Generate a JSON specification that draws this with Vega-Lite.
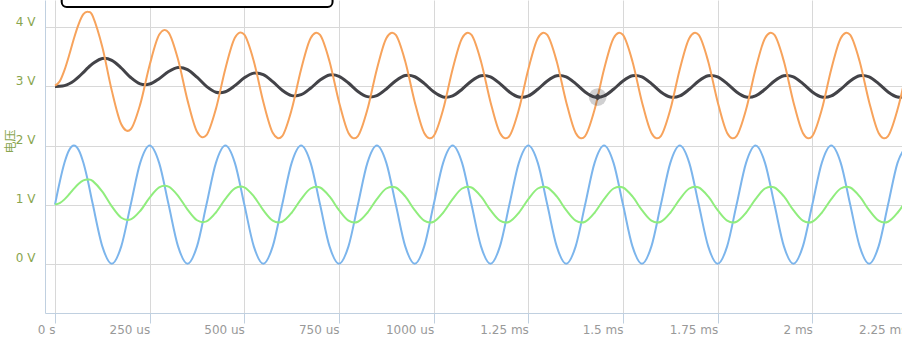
{
  "$schema": "https://vega.github.io/schema/vega-lite/v6.json",
  "width": 862,
  "height": 313,
  "autosize": {"type": "none"},
  "padding": {"left": 45, "top": 0, "right": -5, "bottom": 39},
  "background": "white",
  "config": {"view": {"stroke": null}, "font": "DejaVu Sans"},
  "datasets": {
    "w": [
      {"t": 0, "blue": 1, "dark": 3.000, "green": 1.000, "orange": 3.015},
      {"t": 12.5, "blue": 1.383, "dark": 3.002, "green": 1.024, "orange": 3.086},
      {"t": 25, "blue": 1.707, "dark": 3.014, "green": 1.088, "orange": 3.275},
      {"t": 37.5, "blue": 1.924, "dark": 3.045, "green": 1.175, "orange": 3.531},
      {"t": 50, "blue": 2, "dark": 3.094, "green": 1.270, "orange": 3.812},
      {"t": 62.5, "blue": 1.924, "dark": 3.161, "green": 1.353, "orange": 4.056},
      {"t": 75, "blue": 1.707, "dark": 3.238, "green": 1.409, "orange": 4.222},
      {"t": 87.5, "blue": 1.383, "dark": 3.317, "green": 1.425, "orange": 4.262},
      {"t": 100, "blue": 1, "dark": 3.390, "green": 1.397, "orange": 4.186},
      {"t": 125, "blue": 0.293, "dark": 3.474, "green": 1.221, "orange": 3.667},
      {"t": 150, "blue": 0, "dark": 3.442, "green": 0.971, "orange": 2.929},
      {"t": 175, "blue": 0.293, "dark": 3.312, "green": 0.778, "orange": 2.360},
      {"t": 200, "blue": 1, "dark": 3.151, "green": 0.749, "orange": 2.275},
      {"t": 225, "blue": 1.707, "dark": 3.042, "green": 0.892, "orange": 2.696},
      {"t": 250, "blue": 2, "dark": 3.040, "green": 1.118, "orange": 3.363},
      {"t": 275, "blue": 1.707, "dark": 3.131, "green": 1.291, "orange": 3.873},
      {"t": 300, "blue": 1, "dark": 3.252, "green": 1.304, "orange": 3.912},
      {"t": 325, "blue": 0.293, "dark": 3.321, "green": 1.149, "orange": 3.455},
      {"t": 350, "blue": 0, "dark": 3.284, "green": 0.915, "orange": 2.764},
      {"t": 375, "blue": 0.293, "dark": 3.156, "green": 0.735, "orange": 2.233},
      {"t": 400, "blue": 1, "dark": 3.001, "green": 0.715, "orange": 2.174},
      {"t": 425, "blue": 1.707, "dark": 2.902, "green": 0.866, "orange": 2.620},
      {"t": 450, "blue": 2, "dark": 2.910, "green": 1.097, "orange": 3.301},
      {"t": 475, "blue": 1.707, "dark": 3.013, "green": 1.274, "orange": 3.823},
      {"t": 500, "blue": 1, "dark": 3.146, "green": 1.292, "orange": 3.876},
      {"t": 525, "blue": 0.293, "dark": 3.225, "green": 1.140, "orange": 3.428},
      {"t": 550, "blue": 0, "dark": 3.200, "green": 0.907, "orange": 2.741},
      {"t": 575, "blue": 0.293, "dark": 3.082, "green": 0.729, "orange": 2.216},
      {"t": 600, "blue": 1, "dark": 2.936, "green": 0.710, "orange": 2.160},
      {"t": 625, "blue": 1.707, "dark": 2.845, "green": 0.862, "orange": 2.608},
      {"t": 650, "blue": 2, "dark": 2.860, "green": 1.094, "orange": 3.292},
      {"t": 675, "blue": 1.707, "dark": 2.970, "green": 1.272, "orange": 3.817},
      {"t": 700, "blue": 1, "dark": 3.108, "green": 1.290, "orange": 3.871},
      {"t": 725, "blue": 0.293, "dark": 3.193, "green": 1.138, "orange": 3.422},
      {"t": 750, "blue": 0, "dark": 3.172, "green": 0.906, "orange": 2.738},
      {"t": 775, "blue": 0.293, "dark": 3.058, "green": 0.728, "orange": 2.213},
      {"t": 800, "blue": 1, "dark": 2.915, "green": 0.710, "orange": 2.160},
      {"t": 825, "blue": 1.707, "dark": 2.827, "green": 0.862, "orange": 2.608},
      {"t": 850, "blue": 2, "dark": 2.845, "green": 1.094, "orange": 3.292},
      {"t": 875, "blue": 1.707, "dark": 2.957, "green": 1.272, "orange": 3.817},
      {"t": 900, "blue": 1, "dark": 3.097, "green": 1.290, "orange": 3.871},
      {"t": 925, "blue": 0.293, "dark": 3.184, "green": 1.138, "orange": 3.422},
      {"t": 950, "blue": 0, "dark": 3.164, "green": 0.906, "orange": 2.738},
      {"t": 975, "blue": 0.293, "dark": 3.051, "green": 0.728, "orange": 2.213},
      {"t": 1000, "blue": 1, "dark": 2.909, "green": 0.710, "orange": 2.160},
      {"t": 1025, "blue": 1.707, "dark": 2.822, "green": 0.862, "orange": 2.608},
      {"t": 1050, "blue": 2, "dark": 2.840, "green": 1.094, "orange": 3.292},
      {"t": 1075, "blue": 1.707, "dark": 2.953, "green": 1.272, "orange": 3.817},
      {"t": 1100, "blue": 1, "dark": 3.093, "green": 1.290, "orange": 3.871},
      {"t": 1125, "blue": 0.293, "dark": 3.180, "green": 1.138, "orange": 3.422},
      {"t": 1150, "blue": 0, "dark": 3.161, "green": 0.906, "orange": 2.738},
      {"t": 1175, "blue": 0.293, "dark": 3.048, "green": 0.728, "orange": 2.213},
      {"t": 1200, "blue": 1, "dark": 2.907, "green": 0.710, "orange": 2.160},
      {"t": 1225, "blue": 1.707, "dark": 2.820, "green": 0.862, "orange": 2.608},
      {"t": 1250, "blue": 2, "dark": 2.839, "green": 1.094, "orange": 3.292},
      {"t": 1275, "blue": 1.707, "dark": 2.952, "green": 1.272, "orange": 3.817},
      {"t": 1300, "blue": 1, "dark": 3.093, "green": 1.290, "orange": 3.871},
      {"t": 1325, "blue": 0.293, "dark": 3.180, "green": 1.138, "orange": 3.422},
      {"t": 1350, "blue": 0, "dark": 3.161, "green": 0.906, "orange": 2.738},
      {"t": 1375, "blue": 0.293, "dark": 3.048, "green": 0.728, "orange": 2.213},
      {"t": 1400, "blue": 1, "dark": 2.907, "green": 0.710, "orange": 2.160},
      {"t": 1425, "blue": 1.707, "dark": 2.820, "green": 0.862, "orange": 2.608},
      {"t": 1450, "blue": 2, "dark": 2.839, "green": 1.094, "orange": 3.292},
      {"t": 1475, "blue": 1.707, "dark": 2.952, "green": 1.272, "orange": 3.817},
      {"t": 1500, "blue": 1, "dark": 3.093, "green": 1.290, "orange": 3.871},
      {"t": 1525, "blue": 0.293, "dark": 3.180, "green": 1.138, "orange": 3.422},
      {"t": 1550, "blue": 0, "dark": 3.161, "green": 0.906, "orange": 2.738},
      {"t": 1575, "blue": 0.293, "dark": 3.048, "green": 0.728, "orange": 2.213},
      {"t": 1600, "blue": 1, "dark": 2.907, "green": 0.710, "orange": 2.160},
      {"t": 1625, "blue": 1.707, "dark": 2.820, "green": 0.862, "orange": 2.608},
      {"t": 1650, "blue": 2, "dark": 2.839, "green": 1.094, "orange": 3.292},
      {"t": 1675, "blue": 1.707, "dark": 2.952, "green": 1.272, "orange": 3.817},
      {"t": 1700, "blue": 1, "dark": 3.093, "green": 1.290, "orange": 3.871},
      {"t": 1725, "blue": 0.293, "dark": 3.180, "green": 1.138, "orange": 3.422},
      {"t": 1750, "blue": 0, "dark": 3.161, "green": 0.906, "orange": 2.738},
      {"t": 1775, "blue": 0.293, "dark": 3.048, "green": 0.728, "orange": 2.213},
      {"t": 1800, "blue": 1, "dark": 2.907, "green": 0.710, "orange": 2.160},
      {"t": 1825, "blue": 1.707, "dark": 2.820, "green": 0.862, "orange": 2.608},
      {"t": 1850, "blue": 2, "dark": 2.839, "green": 1.094, "orange": 3.292},
      {"t": 1875, "blue": 1.707, "dark": 2.952, "green": 1.272, "orange": 3.817},
      {"t": 1900, "blue": 1, "dark": 3.093, "green": 1.290, "orange": 3.871},
      {"t": 1925, "blue": 0.293, "dark": 3.180, "green": 1.138, "orange": 3.422},
      {"t": 1950, "blue": 0, "dark": 3.161, "green": 0.906, "orange": 2.738},
      {"t": 1975, "blue": 0.293, "dark": 3.048, "green": 0.728, "orange": 2.213},
      {"t": 2000, "blue": 1, "dark": 2.907, "green": 0.710, "orange": 2.160},
      {"t": 2025, "blue": 1.707, "dark": 2.820, "green": 0.862, "orange": 2.608},
      {"t": 2050, "blue": 2, "dark": 2.839, "green": 1.094, "orange": 3.292},
      {"t": 2075, "blue": 1.707, "dark": 2.952, "green": 1.272, "orange": 3.817},
      {"t": 2100, "blue": 1, "dark": 3.093, "green": 1.290, "orange": 3.871},
      {"t": 2125, "blue": 0.293, "dark": 3.180, "green": 1.138, "orange": 3.422},
      {"t": 2150, "blue": 0, "dark": 3.161, "green": 0.906, "orange": 2.738},
      {"t": 2175, "blue": 0.293, "dark": 3.048, "green": 0.728, "orange": 2.213},
      {"t": 2200, "blue": 1, "dark": 2.907, "green": 0.710, "orange": 2.160},
      {"t": 2225, "blue": 1.707, "dark": 2.820, "green": 0.862, "orange": 2.608},
      {"t": 2250, "blue": 2, "dark": 2.839, "green": 1.094, "orange": 3.292}
    ],
    "box": [{"t": 17.7, "t2": 733, "v": 4.343, "v2": 4.9}],
    "hover": [{"t": 1433, "v": 2.82}]
  },
  "encoding": {
    "x": {
      "field": "t", "type": "quantitative",
      "scale": {"domain": [-26.4, 2250], "nice": false, "zero": false},
      "axis": {
        "title": null,
        "values": [0, 250, 500, 750, 1000, 1250, 1500, 1750, 2000, 2250],
        "labelExpr": "datum.value == 0 ? '0 s' : (datum.value <= 1000 ? datum.value + ' us' : (datum.value / 1000) + ' ms')",
        "labelAlign": "right", "labelBaseline": "alphabetic", "labelPadding": 10,
        "labelFont": "DejaVu Sans", "labelFontSize": 12, "labelColor": "#999999",
        "labelOverlap": false, "labelBound": false, "labelFlush": false,
        "tickSize": 10, "tickColor": "#C0D0E0", "domainColor": "#C0D0E0",
        "grid": true, "gridColor": "#D8D8D8"
      }
    },
    "y": {
      "field": "v", "type": "quantitative",
      "scale": {"domain": [-0.835, 4.463], "nice": false, "zero": false},
      "axis": {
        "title": "电压", "titleFont": "Noto Sans CJK SC", "titleFontSize": 12, "titleFontWeight": "normal",
        "titleColor": "#89A54E", "titleAngle": 270, "titleAlign": "center", "titleBaseline": "middle",
        "titleX": -35, "titleY": 141,
        "values": [0, 1, 2, 3, 4],
        "labelExpr": "datum.value + ' V'",
        "ticks": false, "labelPadding": 10, "labelAlign": "right", "labelBaseline": "alphabetic", "labelOffset": -2,
        "labelFont": "DejaVu Sans", "labelFontSize": 12, "labelColor": "#89A54E",
        "domainColor": "#C0D0E0", "grid": true, "gridColor": "#D8D8D8"
      }
    }
  },
  "layer": [
    {
      "data": {"name": "w"},
      "transform": [{"fold": ["blue"], "as": ["s", "v"]}],
      "mark": {"type": "line", "color": "#7cb5ec", "strokeWidth": 2, "interpolate": "cardinal", "clip": true}
    },
    {
      "data": {"name": "w"},
      "transform": [{"fold": ["dark"], "as": ["s", "v"]}],
      "mark": {"type": "line", "color": "#434348", "strokeWidth": 3, "interpolate": "cardinal", "clip": true}
    },
    {
      "data": {"name": "w"},
      "transform": [{"fold": ["green"], "as": ["s", "v"]}],
      "mark": {"type": "line", "color": "#90ed7d", "strokeWidth": 2, "interpolate": "cardinal", "clip": true}
    },
    {
      "data": {"name": "w"},
      "transform": [{"fold": ["orange"], "as": ["s", "v"]}],
      "mark": {"type": "line", "color": "#f7a35c", "strokeWidth": 2, "interpolate": "cardinal", "clip": true}
    },
    {
      "data": {"name": "box"},
      "mark": {"type": "rect", "fill": "white", "stroke": "black", "strokeWidth": 2, "cornerRadius": 5, "clip": true},
      "encoding": {"x2": {"field": "t2"}, "y2": {"field": "v2"}}
    },
    {
      "data": {"name": "hover"},
      "mark": {"type": "point", "shape": "circle", "filled": true, "color": "#434348", "opacity": 0.25, "size": 314}
    },
    {
      "data": {"name": "hover"},
      "mark": {"type": "point", "shape": "diamond", "filled": true, "color": "#434348", "opacity": 1, "size": 50}
    }
  ]
}
